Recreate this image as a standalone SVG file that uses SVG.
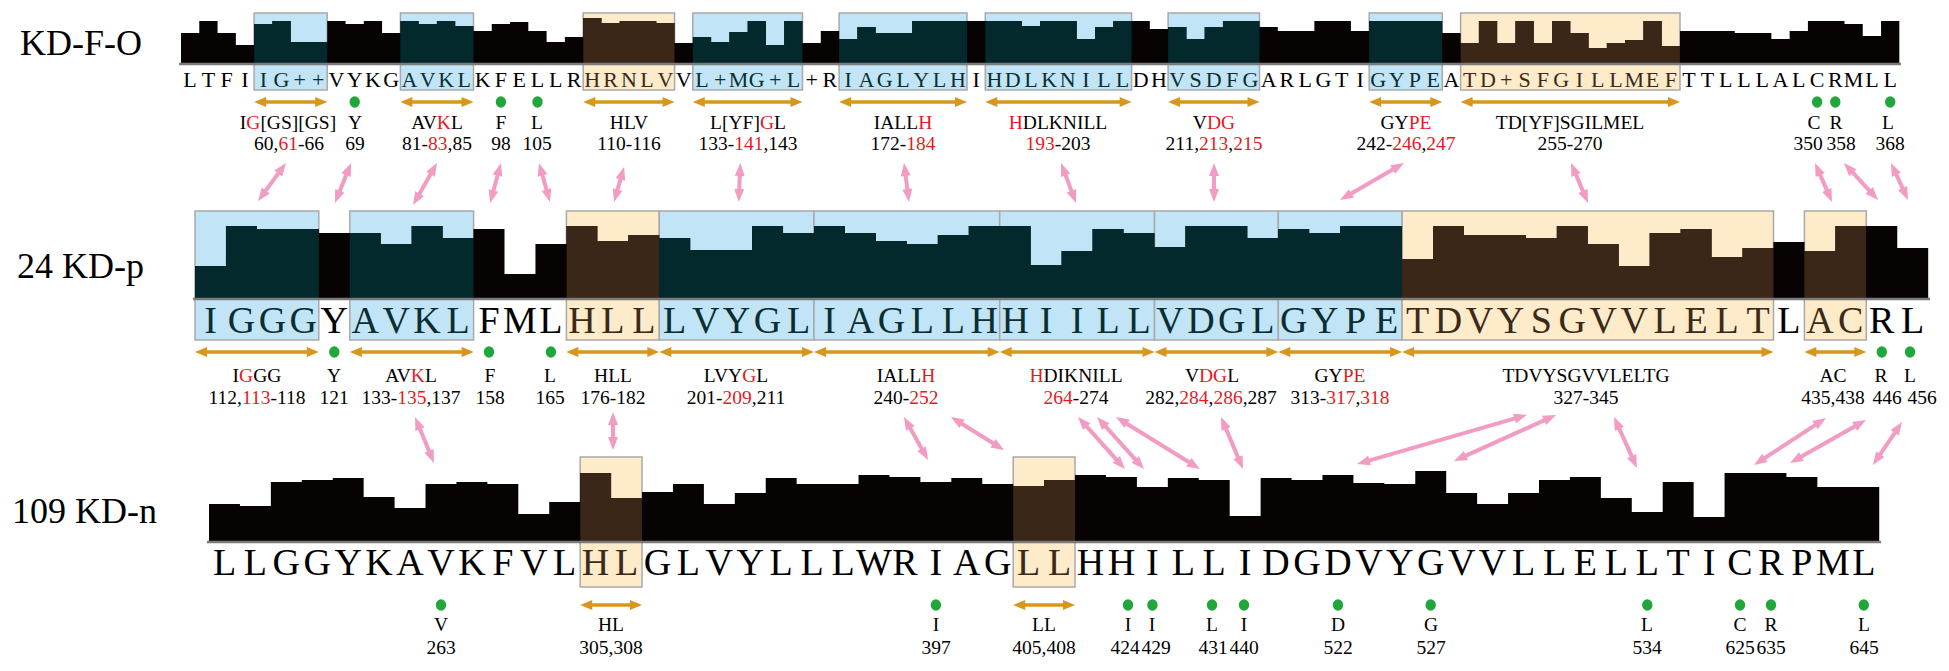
<svg xmlns="http://www.w3.org/2000/svg" xmlns:xlink="http://www.w3.org/1999/xlink" width="1949" height="671" viewBox="0 0 1949 671">
<style>
text{font-family:"Liberation Serif","Times New Roman",serif;fill:#000}
.lbl{font-size:36px}
.s1{font-size:22px;text-anchor:middle}
.s2{font-size:38px;text-anchor:middle}
.a{font-size:19.5px;text-anchor:middle}
.r{fill:#e31b23}
.tb{fill:#0a2e31}
.to{fill:#3b2a1a}
.bb{fill:#c1e5f6;stroke:#a9a9a9;stroke-width:1.5}
.bo{fill:#fdebc9;stroke:#a9a9a9;stroke-width:1.5}
.oa{stroke:#d8961c;stroke-width:3.4;fill:none;marker-start:url(#mo);marker-end:url(#mo)}
.pa{stroke:#f29bc3;stroke-width:4;fill:none;marker-start:url(#mp);marker-end:url(#mp)}
.dot{fill:#21a63b}
.base{stroke:#7a7a7a;stroke-width:2.5}
</style>
<defs>
<marker id="mo" markerUnits="userSpaceOnUse" markerWidth="12" markerHeight="10" refX="4" refY="5" orient="auto-start-reverse" overflow="visible"><path d="M0,0 L12,5 L0,10 z" fill="#d8961c"/></marker>
<marker id="mp" markerUnits="userSpaceOnUse" markerWidth="13" markerHeight="10" refX="6" refY="5" orient="auto-start-reverse" overflow="visible"><path d="M0,0 L13,5 L0,10 z" fill="#f29bc3"/></marker>
<path id="b1" d="M0,63 V33 H1 V21 H2 V33 H3 V45 H4 V24 H5 V21 H6 V42 H8 V21 H9 V24 H10 V21 H11 V33 H12 V21 H13 V24 H14 V21 H15 V26 H16 V31 H17 V24 H18 V22 H19 V31 H20 V42 H21 V37 H22 V18 H23 V23 H24 V21 H26 V23 H27 V43 H28 V37 H29 V42 H30 V32 H31 V21 H32 V45 H33 V21 H34 V43 H35 V31 H36 V39 H37 V27 H38 V33 H40 V21 H46 V26 H47 V21 H49 V39 H50 V27 H51 V21 H53 V29 H54 V27 H55 V39 H56 V27 H57 V21 H59 V27 H60 V31 H62 V21 H64 V31 H65 V21 H69 V33 H70 V43 H71 V21 H72 V43 H73 V21 H74 V43 H75 V21 H76 V33 H77 V48 H78 V43 H79 V40 H80 V21 H81 V46 H82 V31 H85 V33 H87 V39 H88 V31 H89 V21 H91 V24 H92 V36 H93 V21 H94 V63 Z"/>
<path id="b2" d="M0,298 V266 H1 V226 H2 V229 H4 V233 H6 V244 H7 V226 H8 V238 H9 V229 H10 V274 H11 V244 H12 V226 H13 V241 H14 V235 H15 V238 H16 V250 H18 V226 H19 V233 H20 V226 H21 V233 H22 V241 H23 V244 H24 V235 H25 V226 H27 V265 H28 V251 H29 V229 H30 V233 H31 V247 H32 V226 H34 V238 H35 V229 H36 V233 H37 V226 H39 V259 H40 V226 H41 V235 H43 V238 H44 V226 H45 V244 H46 V266 H47 V233 H48 V229 H49 V257 H50 V248 H51 V242 H52 V251 H53 V226 H55 V248 H56 V298 Z"/>
<path id="b3" d="M0,541 V504 H1 V506 H2 V482 H3 V480 H4 V478 H5 V497 H6 V508 H7 V484 H8 V482 H9 V484 H10 V514 H11 V502 H12 V473 H13 V498 H14 V492 H15 V484 H16 V504 H17 V493 H18 V478 H19 V484 H21 V475 H22 V477 H23 V482 H24 V478 H25 V484 H26 V486 H27 V480 H28 V475 H29 V477 H30 V487 H31 V478 H32 V480 H33 V516 H34 V478 H35 V480 H36 V475 H37 V483 H38 V484 H39 V471 H40 V493 H41 V504 H42 V493 H43 V480 H44 V477 H45 V498 H46 V512 H47 V482 H48 V517 H49 V473 H51 V477 H52 V487 H54 V541 Z"/>
<clipPath id="cb1" clipPathUnits="userSpaceOnUse"><rect x="4" y="0" width="4" height="100"/><rect x="12" y="0" width="4" height="100"/><rect x="28" y="0" width="6" height="100"/><rect x="36" y="0" width="7" height="100"/><rect x="44" y="0" width="8" height="100"/><rect x="54" y="0" width="5" height="100"/><rect x="65" y="0" width="4" height="100"/></clipPath>
<clipPath id="co1" clipPathUnits="userSpaceOnUse"><rect x="22" y="0" width="5" height="100"/><rect x="70" y="0" width="12" height="100"/></clipPath>
<clipPath id="cb2" clipPathUnits="userSpaceOnUse"><rect x="0" y="200" width="4" height="110"/><rect x="5" y="200" width="4" height="110"/><rect x="15" y="200" width="24" height="110"/></clipPath>
<clipPath id="co2" clipPathUnits="userSpaceOnUse"><rect x="12" y="200" width="3" height="110"/><rect x="39" y="200" width="12" height="110"/><rect x="52" y="200" width="2" height="110"/></clipPath>
<clipPath id="co3" clipPathUnits="userSpaceOnUse"><rect x="12" y="450" width="2" height="100"/><rect x="26" y="450" width="2" height="100"/></clipPath>
</defs>
<rect width="1949" height="671" fill="#fff"/>

<g id="row-KD-F-O">
<text class="lbl" x="20" y="55">KD-F-O</text>
<rect class="bb" x="254.1" y="13" width="73.1" height="77"/>
<rect class="bb" x="400.4" y="13" width="73.1" height="77"/>
<rect class="bo" x="583.2" y="13" width="91.4" height="77"/>
<rect class="bb" x="692.8" y="13" width="109.7" height="77"/>
<rect class="bb" x="839.1" y="13" width="127.9" height="77"/>
<rect class="bb" x="985.3" y="13" width="146.3" height="77"/>
<rect class="bb" x="1168.1" y="13" width="91.4" height="77"/>
<rect class="bb" x="1369.2" y="13" width="73.1" height="77"/>
<rect class="bo" x="1460.6" y="13" width="219.4" height="77"/>
<g transform="translate(181 0) scale(18.28 1)">
<use xlink:href="#b1" fill="#060302"/>
<use xlink:href="#b1" fill="#03292c" clip-path="url(#cb1)"/>
<use xlink:href="#b1" fill="#3a2717" clip-path="url(#co1)"/>
</g>
<line class="base" x1="179" y1="64" x2="1901" y2="64"/>
<text class="s1" y="87" x="190.1 208.4 226.7 245 263.3 281.5 299.8 318.1 336.4 354.7 373 391.2 409.5 427.8 446.1 464.3 482.6 500.9 519.2 537.5 555.7 574 592.3 610.6 628.9 647.1 665.4 683.7 702 720.3 738.5 756.8 775.1 793.4 811.7 829.9 848.2 866.5 884.8 903.1 921.3 939.6 957.9 976.2 994.5 1012.7 1031 1049.3 1067.6 1085.9 1104.1 1122.4 1140.7 1159 1177.3 1195.5 1213.8 1232.1 1250.4 1268.7 1286.9 1305.2 1323.5 1341.8 1360.1 1378.3 1396.6 1414.9 1433.2 1451.5 1469.7 1488 1506.3 1524.6 1542.9 1561.1 1579.4 1597.7 1616 1634.3 1652.5 1670.8 1689.1 1707.4 1725.7 1743.9 1762.2 1780.5 1798.8 1817.1 1835.3 1853.6 1871.9 1890.2">LTFI<tspan class="tb">IG++</tspan>VYKG<tspan class="tb">AVKL</tspan>KFELLR<tspan class="to">HRNLV</tspan>V<tspan class="tb">L+MG+L</tspan>+R<tspan class="tb">IAGLYLH</tspan>I<tspan class="tb">HDLKNILL</tspan>DH<tspan class="tb">VSDFG</tspan>ARLGTI<tspan class="tb">GYPE</tspan>A<tspan class="to">TD+SFGILLMEF</tspan>TTLLLALCRMLL</text>
<g>
<line class="oa" x1="262.1" y1="102" x2="319.2" y2="102"/>
<line class="oa" x1="408.4" y1="102" x2="465.5" y2="102"/>
<line class="oa" x1="591.2" y1="102" x2="666.6" y2="102"/>
<line class="oa" x1="700.8" y1="102" x2="794.5" y2="102"/>
<line class="oa" x1="847.1" y1="102" x2="959" y2="102"/>
<line class="oa" x1="993.3" y1="102" x2="1123.6" y2="102"/>
<line class="oa" x1="1176.1" y1="102" x2="1251.5" y2="102"/>
<line class="oa" x1="1377.2" y1="102" x2="1434.3" y2="102"/>
<line class="oa" x1="1468.6" y1="102" x2="1672" y2="102"/>
<ellipse class="dot" cx="354.7" cy="102" rx="5.2" ry="5.7"/>
<ellipse class="dot" cx="500.9" cy="102" rx="5.2" ry="5.7"/>
<ellipse class="dot" cx="537.5" cy="102" rx="5.2" ry="5.7"/>
<ellipse class="dot" cx="1817.1" cy="102" rx="5.2" ry="5.7"/>
<ellipse class="dot" cx="1835.3" cy="102" rx="5.2" ry="5.7"/>
<ellipse class="dot" cx="1890.2" cy="102" rx="5.2" ry="5.7"/>
</g>
<g>
<text class="a" x="288" y="129">I<tspan class="r">G</tspan>[GS][GS]</text><text class="a" x="289" y="150">60,<tspan class="r">61</tspan>-66</text>
<text class="a" x="355" y="129">Y</text><text class="a" x="355" y="150">69</text>
<text class="a" x="437" y="129">AV<tspan class="r">K</tspan>L</text><text class="a" x="437" y="150">81-<tspan class="r">83</tspan>,85</text>
<text class="a" x="501" y="129">F</text><text class="a" x="501" y="150">98</text>
<text class="a" x="537" y="129">L</text><text class="a" x="537" y="150">105</text>
<text class="a" x="629" y="129">HLV</text><text class="a" x="629" y="150">110-116</text>
<text class="a" x="748" y="129">L[YF]<tspan class="r">G</tspan>L</text><text class="a" x="748" y="150">133-<tspan class="r">141</tspan>,143</text>
<text class="a" x="903" y="129">IALL<tspan class="r">H</tspan></text><text class="a" x="903" y="150">172-<tspan class="r">184</tspan></text>
<text class="a" x="1058" y="129"><tspan class="r">H</tspan>DLKNILL</text><text class="a" x="1058" y="150"><tspan class="r">193</tspan>-203</text>
<text class="a" x="1214" y="129">V<tspan class="r">DG</tspan></text><text class="a" x="1214" y="150">211,<tspan class="r">213</tspan>,<tspan class="r">215</tspan></text>
<text class="a" x="1406" y="129">GY<tspan class="r">PE</tspan></text><text class="a" x="1406" y="150">242-<tspan class="r">246</tspan>,<tspan class="r">247</tspan></text>
<text class="a" x="1570" y="129">TD[YF]SGILMEL</text><text class="a" x="1570" y="150">255-270</text>
<text class="a" x="1814" y="129">C</text><text class="a" x="1808" y="150">350</text>
<text class="a" x="1836" y="129">R</text><text class="a" x="1841" y="150">358</text>
<text class="a" x="1888" y="129">L</text><text class="a" x="1890" y="150">368</text>
</g>
</g>

<g id="row-24KD-p">
<text class="lbl" x="17" y="278">24 KD-p</text>
<rect class="bb" x="195" y="211" width="123.8" height="129"/>
<rect class="bb" x="349.8" y="211" width="123.8" height="129"/>
<rect class="bo" x="566.4" y="211" width="92.9" height="129"/>
<rect class="bb" x="659.3" y="211" width="154.7" height="129"/>
<rect class="bb" x="814" y="211" width="185.7" height="129"/>
<rect class="bb" x="999.7" y="211" width="154.8" height="129"/>
<rect class="bb" x="1154.5" y="211" width="123.8" height="129"/>
<rect class="bb" x="1278.3" y="211" width="123.8" height="129"/>
<rect class="bo" x="1402.1" y="211" width="371.4" height="129"/>
<rect class="bo" x="1804.4" y="211" width="61.9" height="129"/>
<g transform="translate(195 0) scale(30.95 1)">
<use xlink:href="#b2" fill="#060302"/>
<use xlink:href="#b2" fill="#03292c" clip-path="url(#cb2)"/>
<use xlink:href="#b2" fill="#3a2717" clip-path="url(#co2)"/>
</g>
<line class="base" x1="193" y1="299" x2="1930" y2="299"/>
<text class="s2" y="333" x="210.5 241.4 272.4 303.3 334.3 365.2 396.2 427.1 458.1 489 520 550.9 581.9 612.8 643.8 674.7 705.7 736.6 767.6 798.5 829.5 860.4 891.4 922.3 953.3 984.2 1015.2 1046.1 1077.1 1108 1139 1169.9 1200.9 1231.8 1262.8 1293.7 1324.7 1355.6 1386.6 1417.5 1448.5 1479.4 1510.4 1541.3 1572.3 1603.2 1634.2 1665.1 1696.1 1727 1758 1788.9 1819.9 1850.8 1881.8 1912.7"><tspan class="tb">IGGG</tspan>Y<tspan class="tb">AVKL</tspan>FML<tspan class="to">HLL</tspan><tspan class="tb">LVYGLIAGLLHHIILLVDGLGYPE</tspan><tspan class="to">TDVYSGVVLELT</tspan>L<tspan class="to">AC</tspan>RL</text>
<g>
<line class="oa" x1="203" y1="352" x2="310.8" y2="352"/>
<line class="oa" x1="357.8" y1="352" x2="465.6" y2="352"/>
<line class="oa" x1="574.4" y1="352" x2="651.3" y2="352"/>
<line class="oa" x1="667.3" y1="352" x2="806" y2="352"/>
<line class="oa" x1="822" y1="352" x2="991.7" y2="352"/>
<line class="oa" x1="1007.7" y1="352" x2="1146.5" y2="352"/>
<line class="oa" x1="1162.5" y1="352" x2="1270.3" y2="352"/>
<line class="oa" x1="1286.3" y1="352" x2="1394.1" y2="352"/>
<line class="oa" x1="1410.1" y1="352" x2="1765.5" y2="352"/>
<line class="oa" x1="1812.4" y1="352" x2="1858.3" y2="352"/>
<ellipse class="dot" cx="334.3" cy="352" rx="5.2" ry="5.7"/>
<ellipse class="dot" cx="489" cy="352" rx="5.2" ry="5.7"/>
<ellipse class="dot" cx="550.9" cy="352" rx="5.2" ry="5.7"/>
<ellipse class="dot" cx="1881.8" cy="352" rx="5.2" ry="5.7"/>
<ellipse class="dot" cx="1910" cy="352" rx="5.2" ry="5.7"/>
</g>
<g>
<text class="a" x="257" y="382">I<tspan class="r">G</tspan>GG</text><text class="a" x="257" y="404">112,<tspan class="r">113</tspan>-118</text>
<text class="a" x="334" y="382">Y</text><text class="a" x="334" y="404">121</text>
<text class="a" x="411" y="382">AV<tspan class="r">K</tspan>L</text><text class="a" x="411" y="404">133-<tspan class="r">135</tspan>,137</text>
<text class="a" x="490" y="382">F</text><text class="a" x="490" y="404">158</text>
<text class="a" x="550" y="382">L</text><text class="a" x="550" y="404">165</text>
<text class="a" x="613" y="382">HLL</text><text class="a" x="613" y="404">176-182</text>
<text class="a" x="736" y="382">LVY<tspan class="r">G</tspan>L</text><text class="a" x="736" y="404">201-<tspan class="r">209</tspan>,211</text>
<text class="a" x="906" y="382">IALL<tspan class="r">H</tspan></text><text class="a" x="906" y="404">240-<tspan class="r">252</tspan></text>
<text class="a" x="1076" y="382"><tspan class="r">H</tspan>DIKNILL</text><text class="a" x="1076" y="404"><tspan class="r">264</tspan>-274</text>
<text class="a" x="1212" y="382">V<tspan class="r">DG</tspan>L</text><text class="a" x="1211" y="404">282,<tspan class="r">284</tspan>,<tspan class="r">286</tspan>,287</text>
<text class="a" x="1340" y="382">GY<tspan class="r">PE</tspan></text><text class="a" x="1340" y="404">313-<tspan class="r">317</tspan>,<tspan class="r">318</tspan></text>
<text class="a" x="1586" y="382">TDVYSGVVLELTG</text><text class="a" x="1586" y="404">327-345</text>
<text class="a" x="1833" y="382">AC</text><text class="a" x="1833" y="404">435,438</text>
<text class="a" x="1881" y="382">R</text><text class="a" x="1887" y="404">446</text>
<text class="a" x="1910" y="382">L</text><text class="a" x="1922" y="404">456</text>
</g>
</g>

<g id="row-109KD-n">
<text class="lbl" x="12" y="523">109 KD-n</text>
<rect class="bo" x="580.2" y="457" width="61.8" height="130"/>
<rect class="bo" x="1013.2" y="457" width="61.8" height="130"/>
<g transform="translate(209 0) scale(30.93 1)">
<use xlink:href="#b3" fill="#060302"/>
<use xlink:href="#b3" fill="#3a2717" clip-path="url(#co3)"/>
</g>
<line class="base" x1="207" y1="542" x2="1881" y2="542"/>
<text class="s2" y="575" x="224.5 255.4 286.3 317.3 348.2 379.1 410 441 471.9 502.8 533.8 564.7 595.6 626.6 657.5 688.4 719.3 750.3 781.2 812.1 843.1 874 904.9 935.9 966.8 997.7 1028.7 1059.6 1090.5 1121.4 1152.4 1183.3 1214.2 1245.2 1276.1 1307 1338 1368.9 1399.8 1430.7 1461.7 1492.6 1523.5 1554.5 1585.4 1616.3 1647.3 1678.2 1709.1 1740 1771 1801.9 1832.8 1863.8">LLGGYKAVKFVL<tspan class="to">HL</tspan>GLVYLLLWRIAG<tspan class="to">LL</tspan>HHILLIDGDVYGVVLLELLTICRPML</text>
<g>
<line class="oa" x1="588.2" y1="605" x2="634" y2="605"/>
<line class="oa" x1="1021.2" y1="605" x2="1067" y2="605"/>
<ellipse class="dot" cx="441" cy="605" rx="5.2" ry="5.7"/>
<ellipse class="dot" cx="935.9" cy="605" rx="5.2" ry="5.7"/>
<ellipse class="dot" cx="1128" cy="605" rx="5.2" ry="5.7"/>
<ellipse class="dot" cx="1152.4" cy="605" rx="5.2" ry="5.7"/>
<ellipse class="dot" cx="1212" cy="605" rx="5.2" ry="5.7"/>
<ellipse class="dot" cx="1244" cy="605" rx="5.2" ry="5.7"/>
<ellipse class="dot" cx="1338" cy="605" rx="5.2" ry="5.7"/>
<ellipse class="dot" cx="1430.7" cy="605" rx="5.2" ry="5.7"/>
<ellipse class="dot" cx="1647.3" cy="605" rx="5.2" ry="5.7"/>
<ellipse class="dot" cx="1740" cy="605" rx="5.2" ry="5.7"/>
<ellipse class="dot" cx="1771" cy="605" rx="5.2" ry="5.7"/>
<ellipse class="dot" cx="1863.8" cy="605" rx="5.2" ry="5.7"/>
</g>
<g>
<text class="a" x="441" y="631">V</text><text class="a" x="441" y="654">263</text>
<text class="a" x="611" y="631">HL</text><text class="a" x="611" y="654">305,308</text>
<text class="a" x="936" y="631">I</text><text class="a" x="936" y="654">397</text>
<text class="a" x="1044" y="631">LL</text><text class="a" x="1044" y="654">405,408</text>
<text class="a" x="1128" y="631">I</text><text class="a" x="1125" y="654">424</text>
<text class="a" x="1152" y="631">I</text><text class="a" x="1156" y="654">429</text>
<text class="a" x="1212" y="631">L</text><text class="a" x="1213" y="654">431</text>
<text class="a" x="1244" y="631">I</text><text class="a" x="1244" y="654">440</text>
<text class="a" x="1338" y="631">D</text><text class="a" x="1338" y="654">522</text>
<text class="a" x="1431" y="631">G</text><text class="a" x="1431" y="654">527</text>
<text class="a" x="1647" y="631">L</text><text class="a" x="1647" y="654">534</text>
<text class="a" x="1740" y="631">C</text><text class="a" x="1740" y="654">625</text>
<text class="a" x="1771" y="631">R</text><text class="a" x="1771" y="654">635</text>
<text class="a" x="1864" y="631">L</text><text class="a" x="1864" y="654">645</text>
</g>
</g>

<g id="connectors">
<line class="pa" x1="281.8" y1="168.6" x2="262.2" y2="195.4"/>
<line class="pa" x1="348.4" y1="169.5" x2="337.6" y2="196.5"/>
<line class="pa" x1="433.5" y1="169.1" x2="416.5" y2="198.9"/>
<line class="pa" x1="499.1" y1="169.7" x2="491.9" y2="196.3"/>
<line class="pa" x1="540.9" y1="169.7" x2="548.1" y2="195.3"/>
<line class="pa" x1="622.1" y1="173.7" x2="615.9" y2="195.3"/>
<line class="pa" x1="740" y1="170" x2="739" y2="195"/>
<line class="pa" x1="904.9" y1="169.9" x2="908.1" y2="195.1"/>
<line class="pa" x1="1063.5" y1="169.6" x2="1073.5" y2="196.4"/>
<line class="pa" x1="1214" y1="170" x2="1214" y2="195"/>
<line class="pa" x1="1397.9" y1="166.5" x2="1346.1" y2="196.5"/>
<line class="pa" x1="1573.7" y1="169.4" x2="1585.3" y2="196.6"/>
<line class="pa" x1="1817.8" y1="169.4" x2="1829.2" y2="195.6"/>
<line class="pa" x1="1848.7" y1="168.2" x2="1873.3" y2="194.8"/>
<line class="pa" x1="1893.9" y1="169.4" x2="1905.1" y2="193.6"/>
<line class="pa" x1="417.7" y1="423.5" x2="431.3" y2="456.5"/>
<line class="pa" x1="613" y1="419" x2="613" y2="443"/>
<line class="pa" x1="907.4" y1="423.1" x2="924.6" y2="453.9"/>
<line class="pa" x1="956.9" y1="420.7" x2="998.1" y2="446.3"/>
<line class="pa" x1="1082.7" y1="422.2" x2="1120.3" y2="463.8"/>
<line class="pa" x1="1101.7" y1="422.2" x2="1139.3" y2="463.8"/>
<line class="pa" x1="1122" y1="420.7" x2="1194" y2="465.3"/>
<line class="pa" x1="1223.7" y1="423.4" x2="1240.3" y2="462.6"/>
<line class="pa" x1="1520.3" y1="416.9" x2="1363.7" y2="462.1"/>
<line class="pa" x1="1549.6" y1="417.9" x2="1460.4" y2="458.1"/>
<line class="pa" x1="1616.9" y1="423.4" x2="1634.1" y2="461.6"/>
<line class="pa" x1="1820.1" y1="421.8" x2="1759.9" y2="461.2"/>
<line class="pa" x1="1859.9" y1="423.5" x2="1796.1" y2="459.5"/>
<line class="pa" x1="1898.1" y1="427.8" x2="1876.9" y2="459.2"/>
</g>
</svg>
